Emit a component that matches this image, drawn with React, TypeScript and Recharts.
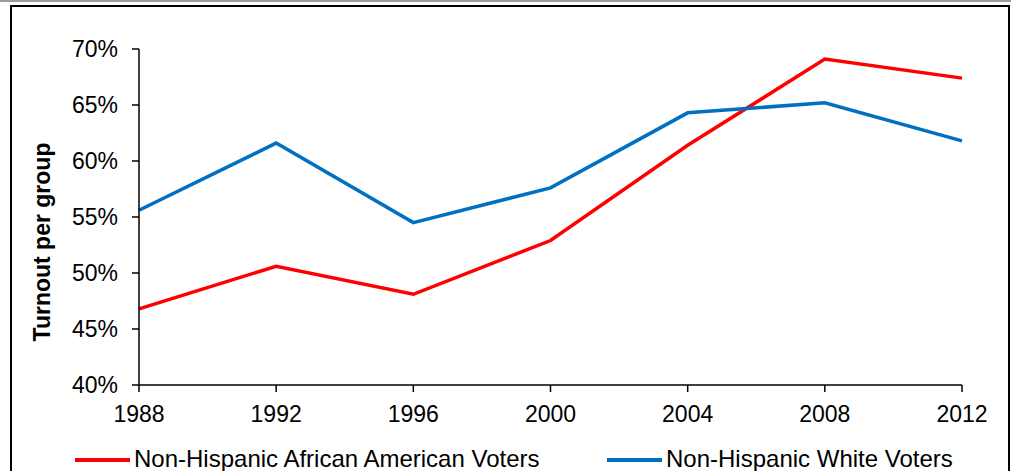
import React from 'react';
import { LineChart, Line, XAxis, YAxis } from 'recharts';

const years = [1988, 1992, 1996, 2000, 2004, 2008, 2012];
const africanAmerican = [46.8, 50.6, 48.1, 52.9, 61.4, 69.1, 67.4];
const white = [55.6, 61.6, 54.5, 57.6, 64.3, 65.2, 61.8];
const yTicks = [40, 45, 50, 55, 60, 65, 70];

const seriesNames = ['Non-Hispanic African American Voters', 'Non-Hispanic White Voters'];
const seriesColors = ['#ff0000', '#0070c0'];

const data = years.map((year, i) => ({
  year,
  aa: africanAmerican[i],
  white: white[i],
}));

const FONT = '"Liberation Sans", Arial, sans-serif';
const tickStyle = { fontSize: 23, fill: '#000', fontFamily: FONT };

const App: React.FC = () => {
  return (
    <div style={{ position: 'absolute', left: 0, top: 0, width: 1011, height: 471, background: '#fff', overflow: 'hidden', fontFamily: FONT }}>
      {/* grey strip and the frame that runs off the bottom */}
      <div style={{ position: 'absolute', left: 0, top: 0, width: 1011, height: 2, background: '#9a9a9a' }} />
      <div style={{ position: 'absolute', left: 10, top: 5, width: 996, height: 500, border: '2px solid #000' }} />

      <div style={{ position: 'absolute', left: 0, top: 0 }}>
        <LineChart width={1011} height={471} data={data} margin={{ top: 49, right: 49, bottom: 56, left: 0 }}>
          <XAxis
            dataKey="year"
            type="number"
            domain={[1988, 2012]}
            ticks={years}
            height={30}
            tickSize={7}
            tickMargin={14}
            axisLine={{ stroke: '#000', strokeWidth: 1.5 }}
            tickLine={{ stroke: '#000', strokeWidth: 1.5 }}
            tick={tickStyle}
          />
          <YAxis
            type="number"
            domain={[40, 70]}
            ticks={yTicks}
            width={139}
            tickSize={7}
            tickMargin={14}
            tickFormatter={(v: number) => `${v}%`}
            axisLine={{ stroke: '#000', strokeWidth: 1.5 }}
            tickLine={{ stroke: '#000', strokeWidth: 1.5 }}
            tick={tickStyle}
            label={{
              content: () => (
                <text
                  x={42}
                  y={242}
                  transform="rotate(-90 42 242)"
                  textAnchor="middle"
                  dominantBaseline="central"
                  style={{ fontSize: 23, fontWeight: 'bold', fontFamily: FONT, fill: '#000' }}
                >
                  Turnout per group
                </text>
              ),
            }}
          />
          <Line dataKey="aa" name={seriesNames[0]} stroke={seriesColors[0]} strokeWidth={3.5} dot={false} isAnimationActive={false} />
          <Line dataKey="white" name={seriesNames[1]} stroke={seriesColors[1]} strokeWidth={3.5} dot={false} isAnimationActive={false} />
        </LineChart>
      </div>

      {/* legend */}
      {seriesNames.map((name, i) => (
        <div
          key={name}
          style={{ position: 'absolute', left: i === 0 ? 75 : 607, top: 445, display: 'flex', alignItems: 'center', fontSize: 24, lineHeight: 1.15, color: '#000', whiteSpace: 'nowrap' }}
        >
          <div style={{ width: 55, height: 4, background: seriesColors[i], marginRight: 4, marginTop: 2 }} />
          <span>{name}</span>
        </div>
      ))}
    </div>
  );
};

export default App;
